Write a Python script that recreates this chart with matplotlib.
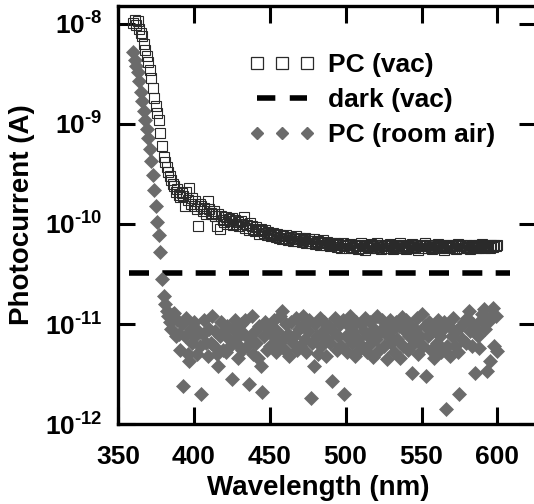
import numpy as np
import matplotlib
matplotlib.use("Agg")
import matplotlib.pyplot as plt
from matplotlib.lines import Line2D
from matplotlib.ticker import NullLocator

plt.rcParams['font.family'] = ['Liberation Sans', 'DejaVu Sans']
plt.rcParams['font.weight'] = 'bold'
plt.rcParams['mathtext.fontset'] = 'custom'
plt.rcParams['mathtext.rm'] = 'Liberation Sans:bold'
plt.rcParams['mathtext.it'] = 'Liberation Sans:bold'
plt.rcParams['mathtext.bf'] = 'Liberation Sans:bold'
plt.rcParams['mathtext.default'] = 'rm'

# photocurrent in vacuum, pA, one value per nm from 360 to 600 nm
vac_start = 360
vac_pA = [
    10200, 11000, 9700, 10600, 9000, 8200, 7500, 6300, 5500, 4800,   # 360
    4200, 3500, 2900, 2300, 1800, 1500, 1300, 1100, 820, 600,        # 370
    470, 420, 370, 330, 300, 275, 250, 240, 210, 225,                # 380
    195, 185, 205, 190, 150, 210, 175, 230, 160, 180,                # 390
    150, 170, 140, 95, 160, 150, 135, 145, 125, 170,                 # 400
    140, 130, 125, 135, 120, 95, 125, 90, 120, 110,                  # 410
    105, 118, 100, 112, 108, 115, 98, 110, 100, 105,                 # 420
    95, 108, 100, 118, 92, 98, 88, 102, 95, 90,                      # 430
    85, 94, 88, 80, 90, 85, 82, 88, 78, 84,                          # 440
    80, 76, 82, 78, 74, 80, 72, 77, 70, 75,                          # 450
    73, 78, 69, 72, 74, 68, 71, 75, 67, 70,                          # 460
    72, 66, 69, 73, 65, 68, 70, 64, 67, 71,                          # 470
    63, 66, 68, 62, 65, 69, 64, 61, 66, 63,                          # 480
    60, 65, 62, 64, 59, 63, 61, 58, 64, 60,                          # 490
    62, 61, 58, 63, 59, 57, 62, 60, 56, 61,                          # 500
    64, 58, 60, 55, 62, 59, 57, 63, 60, 58,                          # 510
    61, 65, 59, 56, 62, 60, 57, 61, 58, 63,                          # 520
    60, 56, 59, 62, 57, 60, 64, 58, 61, 59,                          # 530
    56, 62, 60, 58, 63, 59, 57, 61, 55, 60,                          # 540
    62, 58, 64, 60, 57, 61, 59, 56, 62, 58,                          # 550
    60, 63, 57, 59, 61, 55, 60, 58, 62, 59,                          # 560
    57, 61, 60, 56, 63, 58, 60, 62, 57, 59,                          # 570
    61, 58, 56, 60, 62, 59, 57, 61, 58, 60,                          # 580
    63, 59, 57, 61, 60, 58, 62, 59, 61, 60,                          # 590
    62,                                                              # 600
]

# photocurrent in room air, pA, one value per nm from 360 to 600 nm
air_start = 360
air_pA = [
    5200, 4400, 3800, 3300, 2700, 2100, 1700, 1350, 1100, 900,       # 360
    720, 560, 430, 310, 220, 150, 105, 78, 52, 28,                   # 370
    19, 16, 13.5, 12, 10.5, 9, 12.5, 13, 7.5, 11,                    # 380
    8, 5.5, 10, 2.4, 7.5, 11.5, 5, 4.3, 9, 6.5,                      # 390
    10.5, 7.5, 5, 8.5, 6, 2.0, 8, 11, 6.5, 4.8,                      # 400
    9, 6.5, 12, 6, 8.5, 5, 3.8, 7.5, 10.5, 5.5,                      # 410
    8.5, 5.2, 9.5, 7, 6, 2.8, 9, 11, 6.5, 4.6,                       # 420
    7.5, 10, 5.5, 8, 11, 6, 2.5, 7, 12, 5,                           # 430
    8.5, 6.5, 4.6, 9.5, 3.8, 2.1, 7.5, 10.5, 5.5, 9,                 # 440
    6, 9.5, 7.5, 11, 5.2, 8.5, 6.5, 12, 13.5, 7,                     # 450
    5.5, 10, 8, 4.8, 10.5, 6.5, 7.5, 11.5, 5.5, 9,                   # 460
    6, 9.5, 12, 7, 5.2, 8.5, 11, 1.8, 6.5, 3.8,                      # 470
    10, 7.5, 5, 11.5, 6, 8.5, 10.5, 4.8, 7, 9.5,                     # 480
    6.5, 2.7, 8.5, 11.5, 5.5, 7.5, 10, 6, 11, 2.0,                   # 490
    7.5, 5.2, 9.5, 12, 6.5, 8.5, 4.8, 10.5, 7, 5.5,                  # 500
    10, 6, 8.5, 11.5, 5.2, 7.5, 10.5, 6.5, 4.7, 9,                   # 510
    7, 12, 5.5, 8.5, 11, 6, 9.5, 4.5, 7.5, 11,                       # 520
    6.5, 9, 5.2, 10.5, 7, 9.5, 4.6, 11.7, 6, 8.5,                    # 530
    11, 5.5, 7.5, 9.5, 3.2, 6.5, 9, 11.5, 5, 7.5,                    # 540
    12.6, 6, 9.5, 3.0, 7.5, 10.5, 5.5, 8.5, 4.6, 9.5,                # 550
    6.5, 11, 7.5, 5.2, 9, 10.5, 1.4, 6, 9.5, 4.8,                    # 560
    7.5, 11.5, 6, 8.5, 5.2, 2.0, 9.5, 7, 10.5, 6.5,                  # 570
    11.5, 13.5, 8.5, 6, 10, 3.2, 9, 7.5, 5.7, 11,                    # 580
    12.5, 14, 9, 3.4, 10.5, 4.3, 12, 14.5, 6, 12,                    # 590
    5.4,                                                             # 600
]

# dark current in vacuum (flat)
dark_nm = [357, 608]
dark_A = [3.2e-11, 3.2e-11]

x_ticks = [350, 400, 450, 500, 550, 600]
y_exponents = [-12, -11, -10, -9, -8]

vac_nm = np.arange(vac_start, vac_start + len(vac_pA))
air_nm = np.arange(air_start, air_start + len(air_pA))
vac_A = np.array(vac_pA) * 1e-12
air_A = np.array(air_pA) * 1e-12

fig = plt.figure(figsize=(5.34, 5.04), dpi=100)
ax = fig.add_axes([118 / 534, 80 / 504, 418 / 534, 418 / 504])

sq_color = '#2a2a2a'
dm_color = '#6b6b6b'
dash = (0, (3.6, 2.4))

ax.plot(dark_nm, dark_A, color='black', lw=4.0, linestyle=dash, zorder=1)
ax.plot(air_nm, air_A, ls='none', marker='D', ms=7.0, color=dm_color,
        mec=dm_color, mew=0.5, zorder=2)
ax.plot(vac_nm, vac_A, ls='none', marker='s', ms=7.2, mfc='none',
        mec=sq_color, mew=0.8, zorder=3)

ax.set_yscale('log')
ax.set_xlim(350, 350 + 418 / 1.5175)
ax.set_ylim(1e-12, 10 ** (-12 + 4.18))
ax.set_xticks(x_ticks)
ax.set_xticklabels([str(t) for t in x_ticks])
ax.set_yticks([10.0 ** e for e in y_exponents])
ax.set_yticklabels([r'$10^{\text{%d}}$' % e for e in y_exponents])
ax.yaxis.set_minor_locator(NullLocator())

for s in ax.spines.values():
    s.set_linewidth(2.4)
ax.tick_params(which='major', direction='in', length=12.5, width=2.2,
               labelsize=19, top=True, right=True)
ax.tick_params(axis='x', pad=15)
ax.tick_params(axis='y', pad=11)

ax.set_xlabel('Wavelength (nm)', fontsize=20, fontweight='bold')
ax.set_ylabel('Photocurrent (A)', fontsize=20, fontweight='bold')
ax.xaxis.set_label_coords(0.478, -0.123)
ax.yaxis.set_label_coords(-0.199, 0.5)

handles = [
    Line2D([], [], ls='none', marker='s', ms=8.6, mfc='none', mec=sq_color, mew=0.9),
    Line2D([], [], color='black', lw=4.0, linestyle=(0, (3.3, 2.6))),
    Line2D([], [], ls='none', marker='D', ms=6.6, color=dm_color, mec=dm_color),
]
labels = ['PC (vac)', 'dark (vac)', 'PC (room air)']
ax.legend(handles, labels, loc='upper left', bbox_to_anchor=(249 / 534, 1 - 53 / 504),
          bbox_transform=fig.transFigure, frameon=False, numpoints=3,
          handlelength=2.5, handletextpad=0.5, labelspacing=0.42, borderpad=0,
          borderaxespad=0, prop={'size': 19, 'weight': 'bold'})

fig.savefig('out.png', dpi=100)
